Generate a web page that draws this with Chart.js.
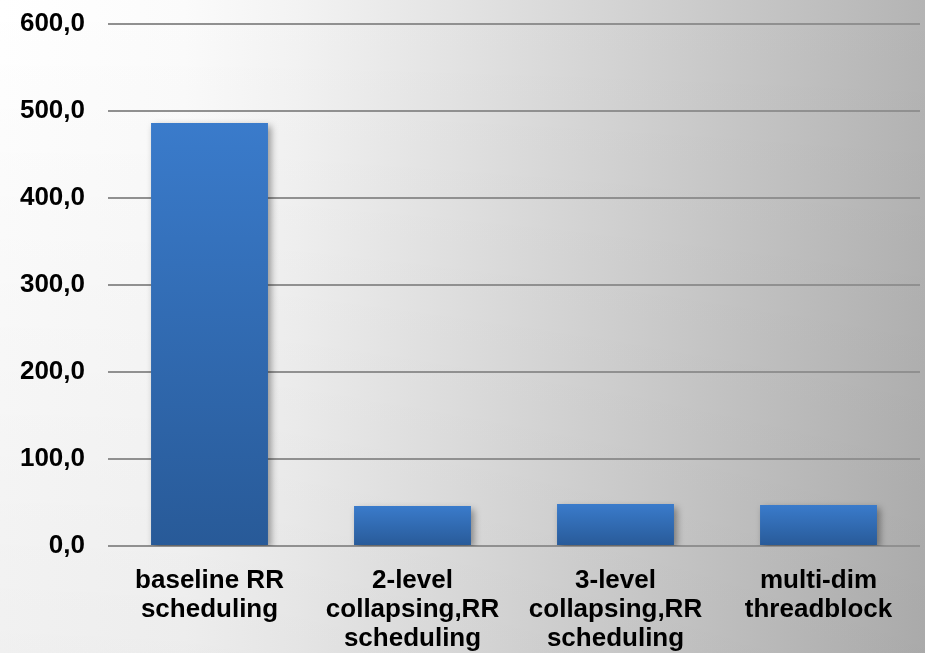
<!DOCTYPE html>
<html>
<head>
<meta charset="utf-8">
<script src="https://cdn.jsdelivr.net/npm/chart.js@4/dist/chart.umd.min.js"></script>
<style>
  html, body { margin: 0; padding: 0; background: #ffffff; }
  #wrap { width: 925px; height: 653px; position: relative; }
</style>
</head>
<body>
<div id="wrap"><canvas id="chart"></canvas></div>
<script>
// Categories (multi-line axis labels) and measured values
const categories = [
  ["baseline RR", "scheduling"],
  ["2-level", "collapsing,RR", "scheduling"],
  ["3-level", "collapsing,RR", "scheduling"],
  ["multi-dim", "threadblock"]
];
const values = [486.2, 46.0, 48.3, 47.1];
const yTicks = [0, 100, 200, 300, 400, 500, 600];

const FONT = "'Liberation Sans', Arial, Helvetica, sans-serif";

// Soft grey page background, light at top-left and darker to the right
const backgroundPlugin = {
  id: 'pageBackground',
  beforeDraw(chart) {
    const { ctx, width, height } = chart;
    ctx.save();
    const g = ctx.createLinearGradient(0, 0, width, 0);
    g.addColorStop(0, '#ffffff');
    g.addColorStop(0.2, '#fbfbfb');
    g.addColorStop(0.32, '#f3f3f3');
    g.addColorStop(0.65, '#d5d5d5');
    g.addColorStop(1, '#b4b4b4');
    ctx.fillStyle = g;
    ctx.fillRect(0, 0, width, height);
    const v = ctx.createLinearGradient(0, 0, 0, height);
    v.addColorStop(0, 'rgba(0,0,0,0)');
    v.addColorStop(1, 'rgba(0,0,0,0.06)');
    ctx.fillStyle = v;
    ctx.fillRect(0, 0, width, height);
    ctx.restore();
  }
};

// Soft drop shadow behind the bars
const barShadowPlugin = {
  id: 'barShadow',
  beforeDatasetsDraw(chart) {
    const ctx = chart.ctx;
    ctx.save();
    ctx.shadowColor = 'rgba(0,0,0,0.38)';
    ctx.shadowBlur = 7;
    ctx.shadowOffsetX = 3;
    ctx.shadowOffsetY = 3;
  },
  afterDatasetsDraw(chart) {
    chart.ctx.restore();
  }
};

// Vertical gradient filling each bar from its own top to the baseline
function barFill(context) {
  const chart = context.chart;
  const yScale = chart.scales.y;
  const v = context.raw;
  if (!yScale || v == null) return '#3270b8';
  const top = yScale.getPixelForValue(v);
  const base = yScale.getPixelForValue(0);
  if (!isFinite(top) || !isFinite(base) || top === base) return '#3270b8';
  const g = chart.ctx.createLinearGradient(0, top, 0, base);
  g.addColorStop(0, '#3a7bcb');
  g.addColorStop(1, '#285a98');
  return g;
}

new Chart(document.getElementById('chart'), {
  type: 'bar',
  data: {
    labels: categories,
    datasets: [{
      data: values,
      backgroundColor: barFill,
      borderWidth: 0,
      barPercentage: 0.576,
      categoryPercentage: 1.0
    }]
  },
  options: {
    responsive: true,
    maintainAspectRatio: false,
    animation: false,
    events: [],
    layout: { padding: { left: 0, right: 5, top: 24, bottom: 0 } },
    plugins: {
      legend: { display: false },
      tooltip: { enabled: false }
    },
    scales: {
      x: {
        grid: { display: false, drawTicks: false },
        border: { display: false },
        ticks: {
          color: '#000000',
          font: { family: FONT, size: 26, weight: 'bold', lineHeight: 1.12 },
          padding: 20,
          maxRotation: 0,
          minRotation: 0,
          autoSkip: false
        },
        afterFit(scale) { scale.height = 107; }
      },
      y: {
        min: 0,
        max: 600,
        afterBuildTicks(scale) { scale.ticks = yTicks.map(v => ({ value: v })); },
        grid: { color: '#909090', lineWidth: 2, drawTicks: false },
        border: { display: false },
        ticks: {
          color: '#000000',
          font: { family: FONT, size: 26, weight: 'bold' },
          padding: 23,
          callback: v => v.toFixed(1).replace('.', ',')
        },
        afterFit(scale) {
          scale.width = 108;
          scale.paddingTop = 0;
          scale.paddingBottom = 0;
        }
      }
    }
  },
  plugins: [backgroundPlugin, barShadowPlugin]
});
</script>
</body>
</html>
